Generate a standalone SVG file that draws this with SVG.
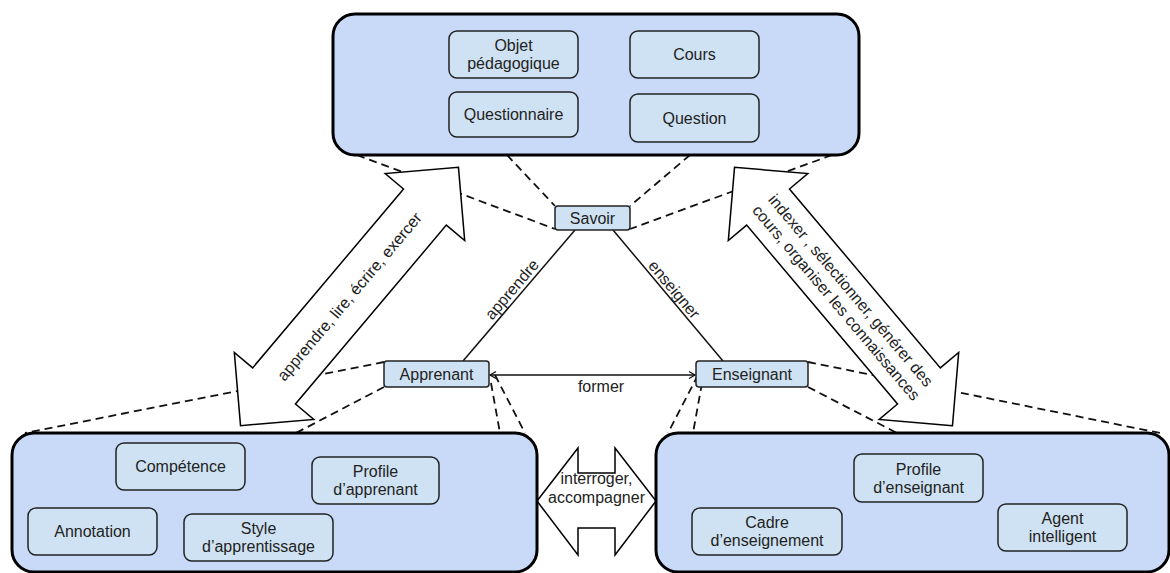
<svg xmlns="http://www.w3.org/2000/svg" width="1170" height="573" viewBox="0 0 1170 573">
<style>
.outer{fill:#c9daf8;stroke:#000;stroke-width:3}
.inner{fill:#cfe2f3;stroke:#222;stroke-width:1.5}
.t{font-family:"Liberation Sans",Arial,sans-serif;font-size:16px;fill:#222;text-anchor:middle}
.dash{stroke:#111;stroke-width:1.8;stroke-dasharray:8 5;fill:none}
.solid{stroke:#111;stroke-width:1.5;fill:none}
.big{fill:#fff;stroke:#000;stroke-width:1.5;stroke-linejoin:miter}
</style>
<defs>
<marker id="ah" markerUnits="userSpaceOnUse" markerWidth="10" markerHeight="10" refX="8" refY="5" orient="auto-start-reverse">
<path d="M2,1.5 L8,5 L2,8.5" fill="none" stroke="#111" stroke-width="1.3"/>
</marker>
</defs>
<rect width="1170" height="573" fill="#fff"/>

<g id="connectors">
<line class="dash" x1="357" y1="155" x2="555" y2="229"/>
<line class="dash" x1="507" y1="155" x2="555" y2="206"/>
<line class="dash" x1="690" y1="155" x2="630" y2="206"/>
<line class="dash" x1="832" y1="155" x2="630" y2="229"/>
<line class="dash" x1="384" y1="362" x2="25" y2="433"/>
<line class="dash" x1="384" y1="387" x2="296" y2="433"/>
<line class="dash" x1="491" y1="383" x2="500" y2="433"/>
<line class="dash" x1="495" y1="375" x2="525" y2="433"/>
<line class="dash" x1="702" y1="383" x2="693" y2="433"/>
<line class="dash" x1="698" y1="375" x2="668" y2="433"/>
<line class="dash" x1="808" y1="362" x2="1160" y2="433"/>
<line class="dash" x1="808" y1="387" x2="897" y2="433"/>

<line class="solid" x1="575" y1="230" x2="463" y2="361"/>
<line class="solid" x1="613" y1="230" x2="723" y2="361"/>
<line class="solid" x1="490" y1="375" x2="695" y2="375" marker-start="url(#ah)" marker-end="url(#ah)"/>
<text class="t" x="516" y="293" transform="rotate(-49.5 516 293)">apprendre</text>
<text class="t" x="670" y="293" transform="rotate(50 670 293)">enseigner</text>
<text class="t" x="601" y="392">former</text>

<g transform="translate(349.5 296.5) rotate(-49.85)">
<polygon class="big" points="169,0 117,52 117,28 -117,28 -117,52 -169,0 -117,-52 -117,-28 117,-28 117,-52"/>
<text class="t" x="0" y="5.5">apprendre, lire, écrire, exercer</text>
</g>
<g transform="translate(843.5 296.5) rotate(49.85)">
<polygon class="big" points="169,0 117,52 117,28 -117,28 -117,52 -169,0 -117,-52 -117,-28 117,-28 117,-52"/>
<text class="t" x="0" y="-4">indexer , sélectionner, générer des</text>
<text class="t" x="0" y="15">cours, organiser les connaissances</text>
</g>
<polygon class="big" points="537,501 578,448 578,473 615,473 615,448 656,501 615,555 615,528 578,528 578,555"/>
<text class="t" x="596.5" y="484">interroger,</text>
<text class="t" x="596.5" y="503">accompagner</text>
</g>

<g id="savoir-domaine">
<rect class="outer" x="333" y="14" width="526" height="141" rx="22"/>
</g>
<g id="objet-pedagogique">
<rect class="inner" x="449" y="31" width="129" height="47" rx="8"/>
<text class="t" x="513.5" y="51">Objet</text>
<text class="t" x="513.5" y="69">pédagogique</text>
</g>
<g id="cours">
<rect class="inner" x="630" y="31" width="129" height="47" rx="8"/>
<text class="t" x="694.5" y="60">Cours</text>
</g>
<g id="questionnaire">
<rect class="inner" x="449" y="92" width="129" height="45" rx="8"/>
<text class="t" x="513.5" y="120">Questionnaire</text>
</g>
<g id="question">
<rect class="inner" x="630" y="94" width="129" height="48" rx="8"/>
<text class="t" x="694.5" y="123.5">Question</text>
</g>

<g id="apprenant-domaine">
<rect class="outer" x="12" y="433" width="525" height="139" rx="22"/>
</g>
<g id="competence">
<rect class="inner" x="116" y="443" width="129" height="47" rx="8"/>
<text class="t" x="180.5" y="472">Compétence</text>
</g>
<g id="profile-apprenant">
<rect class="inner" x="312" y="457" width="127" height="47" rx="8"/>
<text class="t" x="375.5" y="477">Profile</text>
<text class="t" x="375.5" y="495">d’apprenant</text>
</g>
<g id="annotation">
<rect class="inner" x="28" y="508" width="129" height="47" rx="8"/>
<text class="t" x="92.5" y="537">Annotation</text>
</g>
<g id="style-apprentissage">
<rect class="inner" x="184" y="514" width="149" height="47" rx="8"/>
<text class="t" x="258.5" y="534">Style</text>
<text class="t" x="258.5" y="552">d’apprentissage</text>
</g>

<g id="enseignant-domaine">
<rect class="outer" x="656" y="433" width="513" height="139" rx="22"/>
</g>
<g id="profile-enseignant">
<rect class="inner" x="854" y="454" width="129" height="48" rx="8"/>
<text class="t" x="918.5" y="474.5">Profile</text>
<text class="t" x="918.5" y="492.5">d’enseignant</text>
</g>
<g id="cadre-enseignement">
<rect class="inner" x="692" y="508" width="150" height="47" rx="8"/>
<text class="t" x="767" y="528">Cadre</text>
<text class="t" x="767" y="546">d’enseignement</text>
</g>
<g id="agent-intelligent">
<rect class="inner" x="998" y="504" width="129" height="47" rx="8"/>
<text class="t" x="1062.5" y="524">Agent</text>
<text class="t" x="1062.5" y="542">intelligent</text>
</g>

<g id="savoir">
<rect class="inner" x="555" y="206" width="75" height="24" rx="3"/>
<text class="t" x="592.5" y="223.5">Savoir</text>
</g>
<g id="apprenant">
<rect class="inner" x="384" y="361" width="105" height="26" rx="3"/>
<text class="t" x="436.5" y="379.5">Apprenant</text>
</g>
<g id="enseignant">
<rect class="inner" x="696" y="361" width="112" height="26" rx="3"/>
<text class="t" x="752" y="379.5">Enseignant</text>
</g>
</svg>
